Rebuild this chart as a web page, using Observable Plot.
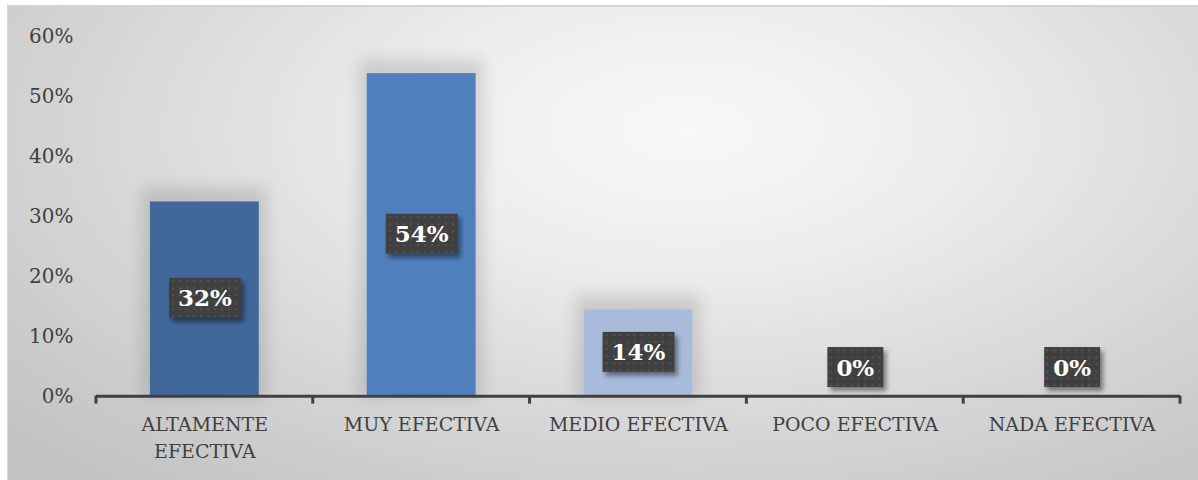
<!DOCTYPE html>
<html>
<head>
<meta charset="utf-8">
<script src="https://cdn.jsdelivr.net/npm/d3@7"></script>
<script src="https://cdn.jsdelivr.net/npm/@observablehq/plot@0.6"></script>
<style>
  html, body { margin: 0; padding: 0; background: #ffffff; }
  #chart {
    position: absolute; left: 7px; top: 5px; width: 1191px; height: 475px;
    box-sizing: border-box;
    border-top: 2px solid #d4d4d4;
    border-left: 1px solid #d8d8d8;
    background: radial-gradient(ellipse 75% 95% at 57% 26%, #f8f8f8 0%, #ededed 30%, #d9d9d9 62%, #c3c3c3 100%);
  }
  #chart svg { position: absolute; left: 0; top: -2px; overflow: visible; }
</style>
</head>
<body>
<div id="chart"></div>
<script>
// ---- data ----
const categories = ["ALTAMENTE EFECTIVA", "MUY EFECTIVA", "MEDIO EFECTIVA", "POCO EFECTIVA", "NADA EFECTIVA"];
const xTickLabels = ["ALTAMENTE\nEFECTIVA", "MUY EFECTIVA", "MEDIO EFECTIVA", "POCO EFECTIVA", "NADA EFECTIVA"];
const values = [32.4, 53.8, 14.4, 0, 0];
const valueLabels = ["32%", "54%", "14%", "0%", "0%"];
const barColors = ["#3f6899", "#4f80bd", "#a9bbdb", "#a9bbdb", "#a9bbdb"];
const yTicks = [0, 10, 20, 30, 40, 50, 60];

const rows = categories.map((c, i) => ({cat: c, value: values[i], color: barColors[i], label: valueLabels[i]}));

// boundary ticks below the category axis
function boundaryTicks(index, scales, vals, dims) {
  const fx = scales.x;
  const desc = (scales.scales && scales.scales.x) || {};
  const bw = typeof fx.bandwidth === "function" ? fx.bandwidth() : (desc.bandwidth ?? 0);
  const step = typeof fx.step === "function" ? fx.step() : (desc.step ?? bw * 2);
  const y0 = scales.y(0);
  const xs = categories.map(c => fx(c) - (step - bw) / 2);
  xs.push(fx(categories[categories.length - 1]) + bw + (step - bw) / 2);
  const g = d3.create("svg:g");
  g.selectAll("line").data(xs).join("line")
    .attr("x1", d => d).attr("x2", d => d)
    .attr("y1", y0).attr("y2", y0 + 8)
    .attr("stroke", "#404040").attr("stroke-width", 3);
  return g.node();
}

const W = 1191, H = 475;
const FONT = "'DejaVu Serif', serif";
const plot = Plot.plot({
  width: W,
  height: H,
  marginLeft: 88,
  marginRight: 18,
  marginTop: 31,
  marginBottom: 84,
  style: {fontFamily: FONT, fontSize: "19px", color: "#404040", background: "transparent", overflow: "visible"},
  x: {domain: categories, paddingInner: 0.5, paddingOuter: 0.25, label: null},
  y: {domain: [0, 60], label: null},
  color: {type: "identity"},
  marks: [
    Plot.axisY({ticks: yTicks, tickSize: 0, tickPadding: 23, tickFormat: d => d + "%", fontSize: 20}),
    Plot.axisX({tickSize: 0, tickPadding: 16, tickFormat: d => xTickLabels[categories.indexOf(d)], lineHeight: 1.4, fontSize: 19}),
    Plot.barY(rows, {x: "cat", y: "value", fill: "color", className: "bars"}),
    Plot.ruleY([0], {stroke: "#404040", strokeWidth: 3}),
    boundaryTicks,
    Plot.text(rows.filter(d => d.value > 0), {x: "cat", y: d => d.value / 2, text: "label", fill: "white", fontWeight: "bold", fontSize: 23, className: "dlabel"}),
    Plot.text(rows.filter(d => d.value === 0), {x: "cat", y: d => d.value / 2, text: "label", fill: "white", fontWeight: "bold", fontSize: 23, dy: -28, className: "dlabel"})
  ]
});

document.getElementById("chart").appendChild(plot);

// defs: pattern + shadows
const ns = "http://www.w3.org/2000/svg";
const defs = document.createElementNS(ns, "defs");
defs.innerHTML = `
  <pattern id="dots" width="7" height="7" patternUnits="userSpaceOnUse">
    <rect width="7" height="7" fill="#404040"/>
    <rect x="2.5" y="2.5" width="1.6" height="1.6" fill="#5e5e5e"/>
  </pattern>
  <filter id="boxShadow" x="-30%" y="-30%" width="160%" height="170%">
    <feDropShadow dx="3" dy="4" stdDeviation="2.5" flood-color="#000" flood-opacity="0.45"/>
  </filter>
  <filter id="barGlow" x="-50%" y="-30%" width="200%" height="150%">
    <feMorphology in="SourceAlpha" operator="dilate" radius="8" result="grow"/>
    <feOffset in="grow" dy="-6" result="off"/>
    <feGaussianBlur in="off" stdDeviation="8" result="blur"/>
    <feComponentTransfer in="blur" result="soft"><feFuncA type="linear" slope="0.13"/></feComponentTransfer>
    <feMerge><feMergeNode in="soft"/><feMergeNode in="SourceGraphic"/></feMerge>
  </filter>`;
plot.insertBefore(defs, plot.firstChild);

const barsG = plot.querySelector("g.bars");
if (barsG) barsG.setAttribute("filter", "url(#barGlow)");

plot.querySelectorAll("g.dlabel text").forEach(t => {
  const b = t.getBBox();
  const padX = 9, h = 40;
  const cy = b.y + b.height / 2;
  const r = document.createElementNS(ns, "rect");
  r.setAttribute("x", b.x - padX);
  r.setAttribute("y", cy - h / 2);
  r.setAttribute("width", b.width + 2 * padX);
  r.setAttribute("height", h);
  r.setAttribute("fill", "url(#dots)");
  r.setAttribute("filter", "url(#boxShadow)");
  const tr = t.getAttribute("transform");
  if (tr) r.setAttribute("transform", tr);
  t.parentNode.insertBefore(r, t);
});
</script>
</body>
</html>
